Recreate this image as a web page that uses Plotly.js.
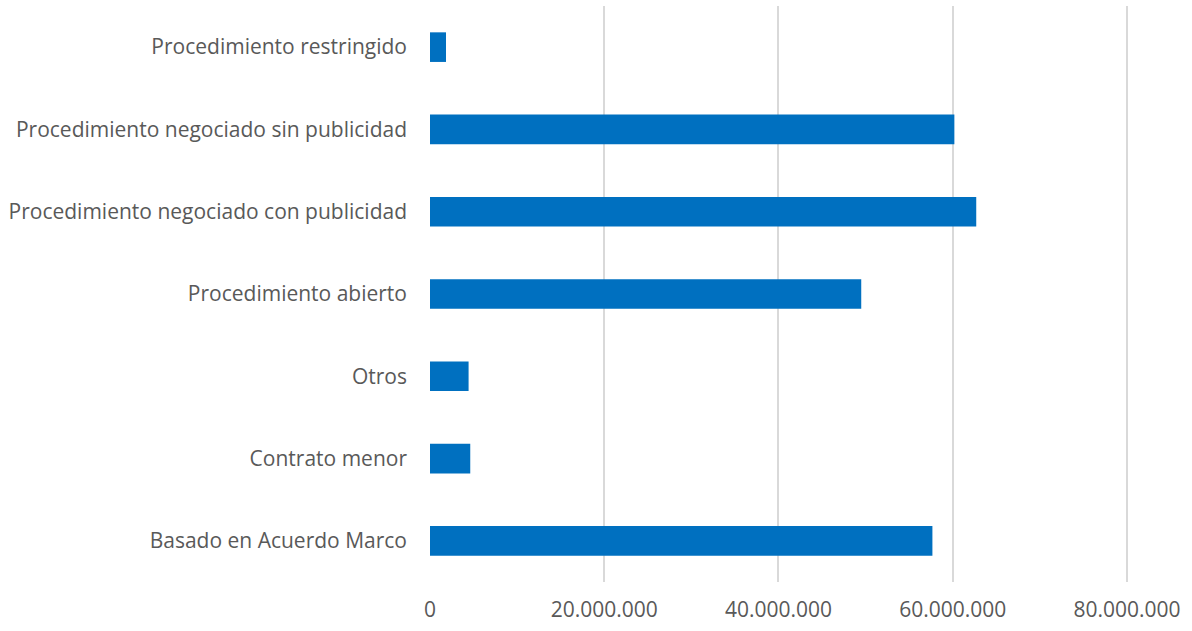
<!DOCTYPE html>
<html>
<head>
<meta charset="utf-8">
<script src="https://cdn.plot.ly/plotly-3.0.1.min.js"></script>
<style>html,body{margin:0;padding:0;background:#fff;}#chart{width:1192px;height:631px;}</style>
</head>
<body>
<div id="chart"></div>
<script>
const categories = [
  "Basado en Acuerdo Marco",
  "Contrato menor",
  "Otros",
  "Procedimiento abierto",
  "Procedimiento negociado con publicidad",
  "Procedimiento negociado sin publicidad",
  "Procedimiento restringido"
];
const values = [57670000, 4620000, 4430000, 49500000, 62700000, 60190000, 1840000];
const tickVals = [0, 20000000, 40000000, 60000000, 80000000];
const tickText = ["0", "20.000.000", "40.000.000", "60.000.000", "80.000.000"];

const trace = {
  type: "bar",
  orientation: "h",
  y: categories,
  x: values,
  marker: {color: "#0070C0"},
  hoverinfo: "x+y"
};

const layout = {
  width: 1192,
  height: 631,
  margin: {l: 430, r: 62, t: 6, b: 49},
  paper_bgcolor: "#ffffff",
  plot_bgcolor: "#ffffff",
  bargap: 0.64,
  showlegend: false,
  font: {family: "Open Sans, sans-serif", size: 21, color: "#595959"},
  xaxis: {
    range: [0, 80350000],
    tickvals: tickVals,
    ticktext: tickText,
    showgrid: true,
    gridcolor: "#d9d9d9",
    gridwidth: 2,
    zeroline: false,
    showline: false,
    ticks: "",
    ticklabelstandoff: 13,
    tickfont: {size: 21, color: "#595959"}
  },
  yaxis: {
    type: "category",
    categoryorder: "array",
    categoryarray: categories,
    showgrid: false,
    zeroline: false,
    showline: false,
    ticks: "",
    ticklabelstandoff: 22,
    tickfont: {size: 21, color: "#595959"}
  }
};

Plotly.newPlot("chart", [trace], layout, {displayModeBar: false, staticPlot: true});
</script>
</body>
</html>
